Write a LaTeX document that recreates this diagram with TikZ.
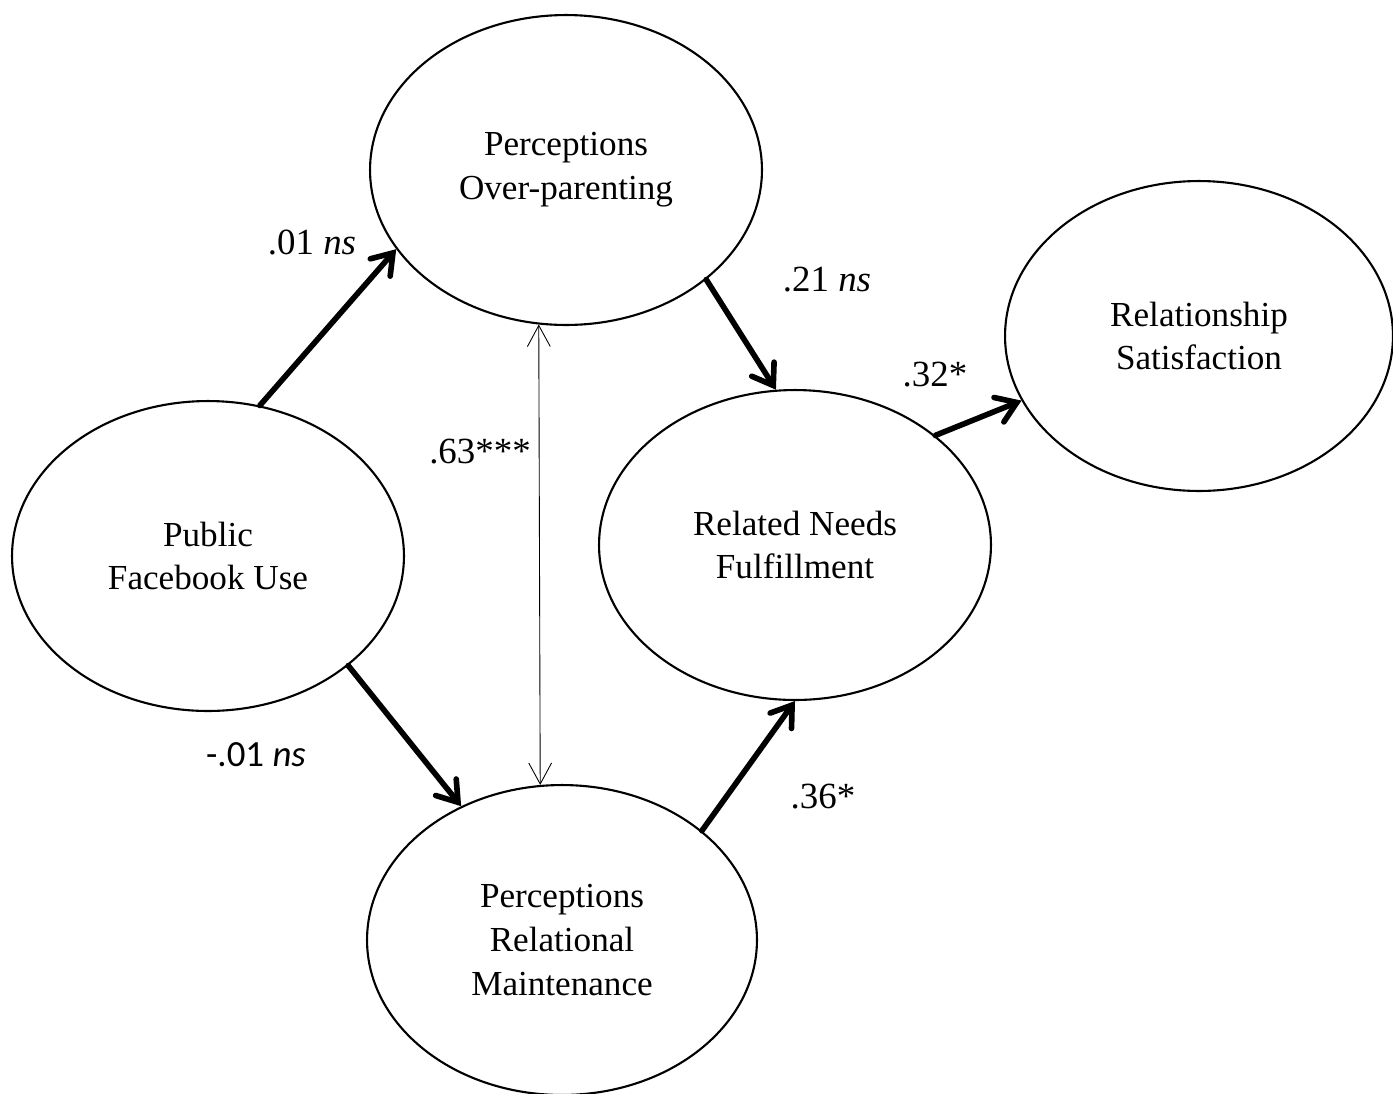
\documentclass[tikz,border=0pt]{standalone}
\usepackage{fontspec}
\setmainfont{Liberation Serif}
\newfontfamily\calibri{Carlito}
\usetikzlibrary{arrows.meta,shapes.geometric}

\begin{document}
\begin{tikzpicture}[x=0.02cm, y=-0.02cm,
  every node/.style={font=\fontsize{20}{25}\selectfont},
  coef/.style={font=\fontsize{21}{25}\selectfont},
  latent/.style={draw, ellipse, line width=1.2pt, inner sep=0pt,
    minimum width=7.84cm, minimum height=6.2cm, align=center},
  path/.style={line width=3.2pt, line cap=round,
    -{Straight Barb[length=11pt, width=15pt, line cap=round]}},
  corr/.style={line width=0.5pt,
    {Straight Barb[length=12pt, width=13pt]}-{Straight Barb[length=12pt, width=13pt]}}]
  \useasboundingbox (0,0) rectangle (1393,1093);
  % constructs
  \node[latent] (pfu) at (208,556) {Public\\Facebook Use};
  \node[latent] (pop) at (566,170) {Perceptions\\Over-parenting};
  \node[latent] (rnf) at (795,545) {Related Needs\\Fulfillment};
  \node[latent, minimum width=7.76cm] (rs) at (1199,336) {Relationship\\Satisfaction};
  \node[latent, minimum width=7.8cm] (prm) at (562,940) {Perceptions\\Relational\\Maintenance};
  % paths
  \draw[path] (pfu.71) -- (pop.205);
  \draw[path] (pfu.-38) -- (prm.127);
  \draw[path] (pop.-38) -- (rnf.97);
  \draw[path] (prm.38) -- (rnf.270);
  \draw[path] (rnf.38) -- (rs.200);
  \draw[corr] (pop.260.5) -- (prm.98.1);
  % coefficients
  \node[coef] (b1) at (312,242) {.01 \textit{ns}};
  \node[coef] (b2) at (256,755) {\calibri -.01 \textit{ns}};
  \node[coef] (b3) at (827,280) {.21 \textit{ns}};
  \node[coef] (b4) at (823,797) {.36*};
  \node[coef] (b5) at (935,375) {.32*};
  \node[coef] (r1) at (480,452) {.63***};
\end{tikzpicture}
\end{document}
